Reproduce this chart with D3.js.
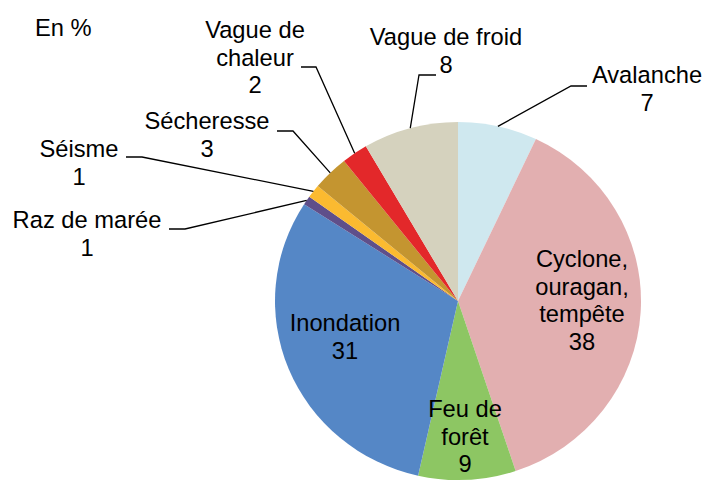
<!DOCTYPE html>
<html>
<head>
<meta charset="utf-8">
<script src="https://cdn.jsdelivr.net/npm/d3@7"></script>
<style>
  body { margin: 0; background: #fff; }
  text { font-family: "Liberation Sans", Arial, sans-serif; font-size: 23.7px; fill: #000; }
</style>
</head>
<body>
<div id="chart"></div>
<script>
const categories = [
  "Avalanche",
  "Cyclone, ouragan, tempête",
  "Feu de forêt",
  "Inondation",
  "Raz de marée",
  "Séisme",
  "Sécheresse",
  "Vague de chaleur",
  "Vague de froid",
];
const values = [7.0, 37.9, 8.6, 30.6, 0.8, 1.2, 3.2, 2.3, 8.4];
const colors = [
  "#cfe8ef", "#e2afb0", "#8dc663", "#5587c6", "#5f4f8a",
  "#fbba30", "#c49530", "#e3282a", "#d5d2be",
];

const width = 706;
const height = 483;
const cx = 458;
const cy = 301;
const rx = 183;
const ry = 179;
const lineHeight = 27.6;

// label placement: centre x, first baseline y, name split in lines, leader [xText, xElbow, y]
const labelLayout = {
  "Avalanche": { x: 647, y: 83, lines: ["Avalanche"], leader: [587, 571, 86] },
  "Cyclone, ouragan, tempête": { x: 582, y: 267, lines: ["Cyclone,", "ouragan,", "tempête"] },
  "Feu de forêt": { x: 465, y: 417, lines: ["Feu de", "forêt"] },
  "Inondation": { x: 345, y: 331, lines: ["Inondation"] },
  "Raz de marée": { x: 87, y: 228, lines: ["Raz de marée"], leader: [169, 185, 229] },
  "Séisme": { x: 79, y: 157, lines: ["Séisme"], leader: [126, 142, 157] },
  "Sécheresse": { x: 207, y: 129, lines: ["Sécheresse"], leader: [277, 293, 131] },
  "Vague de chaleur": { x: 255, y: 38, lines: ["Vague de", "chaleur"], leader: [301, 316, 67] },
  "Vague de froid": { x: 446, y: 45, lines: ["Vague de froid"], leader: [436, 419, 75] },
};

const data = categories.map((c, i) => ({ name: c, value: values[i], color: colors[i] }));

const svg = d3
  .select("#chart")
  .append("svg")
  .attr("width", width)
  .attr("height", height);

const pie = d3.pie().sort(null).value((d) => d.value);
const arcs = pie(data);

const arc = d3.arc().innerRadius(0).outerRadius(rx);

// the original pie is slightly squashed vertically
svg
  .append("g")
  .attr("transform", `translate(${cx},${cy}) scale(1,${ry / rx})`)
  .selectAll("path")
  .data(arcs)
  .join("path")
  .attr("d", arc)
  .attr("fill", (d) => d.data.color);

const edgePoint = (d) => {
  const a = (d.startAngle + d.endAngle) / 2;
  return [cx + rx * Math.sin(a), cy - ry * Math.cos(a)];
};

svg
  .append("g")
  .selectAll("polyline")
  .data(arcs.filter((d) => labelLayout[d.data.name].leader))
  .join("polyline")
  .attr("fill", "none")
  .attr("stroke", "#000")
  .attr("stroke-width", 1.3)
  .attr("points", (d) => {
    const [x0, x1, y] = labelLayout[d.data.name].leader;
    const [ex, ey] = edgePoint(d);
    return `${x0},${y} ${x1},${y} ${ex},${ey}`;
  });

const labels = svg
  .append("g")
  .selectAll("text")
  .data(arcs)
  .join("text")
  .attr("text-anchor", "middle")
  .attr("x", (d) => labelLayout[d.data.name].x)
  .attr("y", (d) => labelLayout[d.data.name].y);

labels
  .selectAll("tspan")
  .data((d) => {
    const l = labelLayout[d.data.name];
    return [...l.lines, String(Math.round(d.data.value))].map((t) => ({ t, x: l.x }));
  })
  .join("tspan")
  .attr("x", (d) => d.x)
  .attr("dy", (d, i) => (i === 0 ? 0 : lineHeight))
  .text((d) => d.t);

svg
  .append("text")
  .attr("x", 35)
  .attr("y", 36)
  .text("En %");
</script>
</body>
</html>
